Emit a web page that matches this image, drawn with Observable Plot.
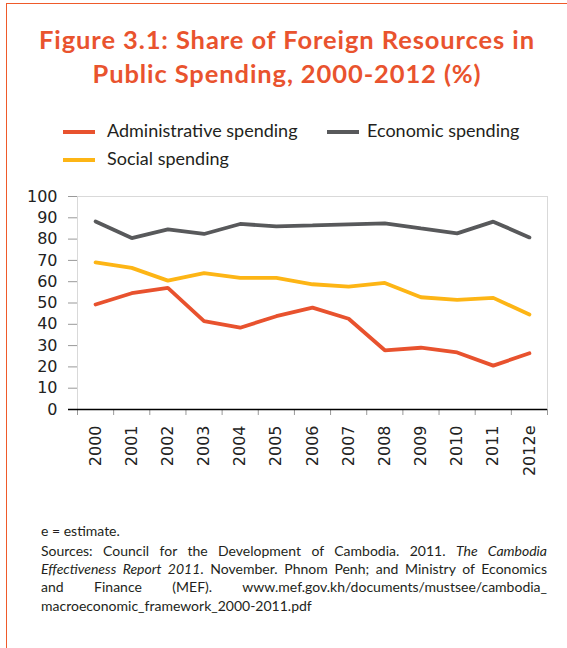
<!DOCTYPE html>
<html><head><meta charset="utf-8">
<script src="https://cdn.jsdelivr.net/npm/d3@7"></script>
<script src="https://cdn.jsdelivr.net/npm/@observablehq/plot@0.6"></script>
<style>
body{margin:0;width:567px;height:648px;position:relative;overflow:hidden;background:#fff;font-family:Lato,sans-serif;color:#231f20}
#border{position:absolute;left:6px;top:3px;width:640px;height:700px;border-top:1.5px solid #ef5a2a;border-left:1.5px solid #ef5a2a}
#title{position:absolute;top:22.3px;left:0;width:574px;text-align:center;font-weight:700;font-size:25.5px;letter-spacing:0.9px;line-height:34px;color:#e9532e}
.leg{position:absolute;font-size:18px;line-height:20px;white-space:nowrap}
.sw{position:absolute;width:32px;height:4px}
#chart{position:absolute;left:0;top:180px}
.cap{position:absolute;left:41px;width:506px;font-size:14px;line-height:18.2px}
.j{text-align:justify;text-align-last:justify}
</style></head><body>
<div id="border"></div>
<div id="title">Figure 3.1: Share of Foreign Resources in<br>Public Spending, 2000-2012 (%)</div>
<div id="legend"></div>
<div id="chart"></div>
<div class="cap" style="top:521.5px">e = estimate.</div>
<div class="cap" style="top:542px">
<div class="j">Sources: Council for the Development of Cambodia. 2011. <i>The Cambodia</i></div>
<div class="j"><i>Effectiveness Report 2011</i>. November. Phnom Penh; and Ministry of Economics</div>
<div class="j">and Finance (MEF). www.mef.gov.kh/documents/mustsee/cambodia_</div>
<div>macroeconomic_framework_2000-2011.pdf</div>
</div>
<script>
const years = ["2000","2001","2002","2003","2004","2005","2006","2007","2008","2009","2010","2011","2012e"];
const administrative = [49.3,54.6,57.1,41.5,38.4,43.8,47.8,42.6,27.8,29.0,26.8,20.6,26.4];
const economic = [88.3,80.5,84.6,82.4,87.1,86.0,86.4,86.9,87.4,85.0,82.7,88.2,80.8];
const social = [69.1,66.5,60.5,64.0,61.8,61.8,58.8,57.7,59.4,52.7,51.5,52.4,44.6];
const seriesNames = ["Administrative spending","Economic spending","Social spending"];
const seriesColors = ["#e8522e","#58595b","#fdb515"];
const yTicks = [0,10,20,30,40,50,60,70,80,90,100];

// legend (HTML, above the SVG)
const legendPos = [{sx:63,tx:107,y:120.3},{sx:327,tx:367,y:120.3},{sx:63,tx:107,y:148}];
const legend = document.getElementById("legend");
seriesNames.forEach((name,k)=>{
  const p = legendPos[k];
  const sw = document.createElement("div");
  sw.className="sw"; sw.style.left=p.sx+"px"; sw.style.top=(p.y+9.7)+"px"; sw.style.background=seriesColors[k];
  const t = document.createElement("div");
  t.className="leg"; t.style.left=p.tx+"px"; t.style.top=p.y+"px"; t.textContent=name;
  legend.appendChild(sw); legend.appendChild(t);
});

const rows = [];
[administrative, economic, social].forEach((arr,s)=>arr.forEach((v,i)=>rows.push({i, year: years[i], series: seriesNames[s], v})));

const chart = Plot.plot({
  width:567, height:309, marginLeft:77, marginRight:20, marginTop:16, marginBottom:80,
  style:{fontFamily:"'DejaVu Sans', sans-serif", fontSize:"16px", color:"#222", overflow:"visible", background:"transparent"},
  x:{type:"linear", domain:[-0.5, years.length-0.5]},
  y:{domain:[0,100]},
  color:{domain:seriesNames, range:seriesColors},
  marks:[
    Plot.frame({stroke:"#d9d9d9"}),
    Plot.axisY(yTicks, {tickSize:9, tickPadding:11, stroke:"#999", fontSize:16, label:null}),
    Plot.axisX(d3.range(-0.5, years.length, 1), {tickSize:6, tickFormat:()=>"", stroke:"#999", label:null}),
    Plot.axisX(d3.range(years.length), {tickSize:0, tickPadding:16, tickRotate:-90, tickFormat:i=>years[i], fontSize:16, label:null}),
    Plot.ruleY([0], {stroke:"#000", strokeWidth:1.5, insetLeft:-9}),
    Plot.line(rows, {x:"i", y:"v", z:"series", stroke:"series", strokeWidth:3.8, strokeLinejoin:"miter"})
  ]
});
document.getElementById("chart").appendChild(chart);
</script>
</body></html>
